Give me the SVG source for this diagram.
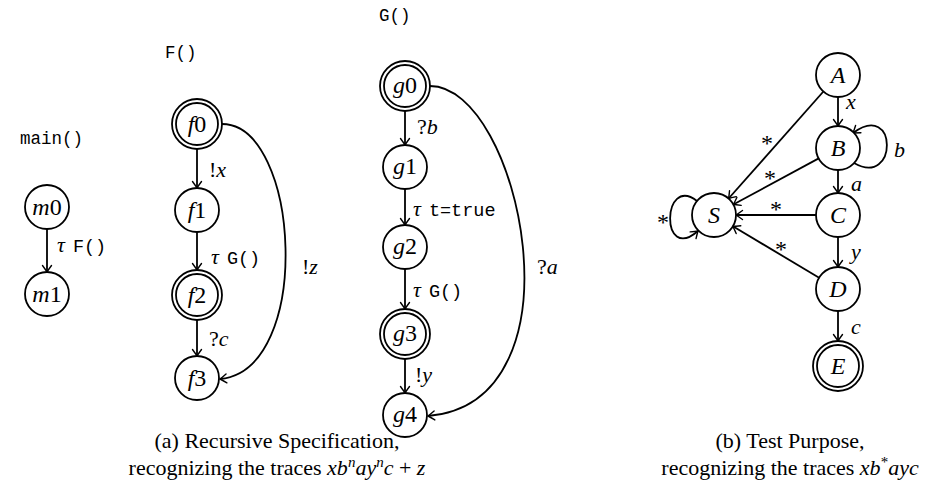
<svg xmlns="http://www.w3.org/2000/svg" width="951" height="502" viewBox="0 0 951 502">
<defs>
<marker id="arr" markerWidth="14" markerHeight="14" refX="0" refY="0" viewBox="-7 -7 14 14" orient="auto" markerUnits="userSpaceOnUse" overflow="visible">
<path d="M -6.5 -4.5 Q -2 -1.2 0 0 Q -2 1.2 -6.5 4.5" fill="none" stroke="#000" stroke-width="1.4" stroke-linecap="round"/>
</marker>
<style>
.n{fill:#fff;stroke:#000;stroke-width:1.8}
.e{fill:none;stroke:#000;stroke-width:1.8;marker-end:url(#arr)}
.lb{font-family:"Liberation Serif",serif;font-size:22px;fill:#000}
.nl{font-family:"Liberation Serif",serif;font-size:24px;fill:#000}
.it{font-style:italic}
.tt{font-family:"Liberation Mono",monospace;font-size:18.5px;fill:#000}
.hd{font-family:"Liberation Mono",monospace;font-size:17.5px;fill:#000}
.st{font-family:"Liberation Serif",serif;font-size:24px;fill:#000}
.cap{font-family:"Liberation Serif",serif;font-size:22px;fill:#000}
</style>
</defs>
<rect width="951" height="502" fill="#fff"/>

<g id="headers">
<text class="hd" x="20" y="144">main()</text>
<text class="hd" x="165" y="58">F()</text>
<text class="hd" x="379" y="21">G()</text>
</g>

<g id="connectors">
<line class="e" x1="47" y1="229" x2="47" y2="272"/>
<line class="e" x1="197" y1="149" x2="197" y2="188"/>
<line class="e" x1="197" y1="232" x2="197" y2="270"/>
<line class="e" x1="197" y1="320" x2="197" y2="356"/>
<path class="e" d="M 222 124 C 300 124 314 370 220 379"/>
<line class="e" x1="405" y1="111" x2="405" y2="145"/>
<line class="e" x1="405" y1="189" x2="405" y2="225"/>
<line class="e" x1="405" y1="269" x2="405" y2="309"/>
<line class="e" x1="405" y1="359" x2="405" y2="393"/>
<path class="e" d="M 430 86 C 520 86 588 403 428 416"/>
<line class="e" x1="838" y1="97" x2="838" y2="126"/>
<line class="e" x1="838" y1="170" x2="838" y2="193"/>
<line class="e" x1="838" y1="237" x2="838" y2="267"/>
<line class="e" x1="838" y1="311" x2="838" y2="341"/>
<path class="e" d="M 854 163 C 898 188 898 100 853 133"/>
<line class="e" x1="823.4" y1="91.5" x2="728.6" y2="198.5"/>
<line class="e" x1="818.7" y1="158.4" x2="733.3" y2="204.5"/>
<line class="e" x1="816" y1="215" x2="736" y2="215"/>
<line class="e" x1="819.1" y1="277.7" x2="732.9" y2="226.3"/>
<path class="e" d="M 697 201 C 662 174 660 264 698 231"/>
</g>

<g id="edge-labels">
<text class="lb" x="57" y="252"><tspan class="it">τ</tspan><tspan class="tt" dx="8">F()</tspan></text>
<text class="lb" x="209" y="177">!<tspan class="it">x</tspan></text>
<text class="lb" x="211" y="264"><tspan class="it">τ</tspan><tspan class="tt" dx="8">G()</tspan></text>
<text class="lb" x="209" y="346">?<tspan class="it">c</tspan></text>
<text class="lb" x="302" y="274">!<tspan class="it">z</tspan></text>
<text class="lb" x="417" y="134">?<tspan class="it">b</tspan></text>
<text class="lb" x="413" y="216"><tspan class="it">τ</tspan><tspan class="tt" dx="8">t=true</tspan></text>
<text class="lb" x="413" y="297"><tspan class="it">τ</tspan><tspan class="tt" dx="8">G()</tspan></text>
<text class="lb" x="415" y="382">!<tspan class="it">y</tspan></text>
<text class="lb" x="537" y="274">?<tspan class="it">a</tspan></text>
<text class="lb it" x="846" y="109">x</text>
<text class="lb it" x="894" y="157">b</text>
<text class="lb it" x="851" y="191">a</text>
<text class="lb it" x="851" y="259">y</text>
<text class="lb it" x="851" y="334">c</text>
<text class="st" x="761" y="151">*</text>
<text class="st" x="764" y="186">*</text>
<text class="st" x="770" y="217">*</text>
<text class="st" x="775" y="257">*</text>
<text class="st" x="657" y="230">*</text>
</g>

<g id="m0"><circle class="n" cx="47" cy="207" r="22"/><text class="nl" x="47" y="215" text-anchor="middle"><tspan class="it">m</tspan>0</text></g>
<g id="m1"><circle class="n" cx="47" cy="294" r="22"/><text class="nl" x="47" y="302" text-anchor="middle"><tspan class="it">m</tspan>1</text></g>

<g id="f0"><circle class="n" cx="197" cy="124" r="25"/><circle class="n" cx="197" cy="124" r="21"/><text class="nl" x="197" y="132" text-anchor="middle"><tspan class="it">f</tspan>0</text></g>
<g id="f1"><circle class="n" cx="197" cy="210" r="22"/><text class="nl" x="197" y="218" text-anchor="middle"><tspan class="it">f</tspan>1</text></g>
<g id="f2"><circle class="n" cx="197" cy="295" r="25"/><circle class="n" cx="197" cy="295" r="21"/><text class="nl" x="197" y="303" text-anchor="middle"><tspan class="it">f</tspan>2</text></g>
<g id="f3"><circle class="n" cx="197" cy="378" r="22"/><text class="nl" x="197" y="386" text-anchor="middle"><tspan class="it">f</tspan>3</text></g>

<g id="g0"><circle class="n" cx="405" cy="86" r="25"/><circle class="n" cx="405" cy="86" r="21"/><text class="nl" x="405" y="93" text-anchor="middle"><tspan class="it">g</tspan>0</text></g>
<g id="g1"><circle class="n" cx="405" cy="167" r="22"/><text class="nl" x="405" y="174" text-anchor="middle"><tspan class="it">g</tspan>1</text></g>
<g id="g2"><circle class="n" cx="405" cy="247" r="22"/><text class="nl" x="405" y="254" text-anchor="middle"><tspan class="it">g</tspan>2</text></g>
<g id="g3"><circle class="n" cx="405" cy="334" r="25"/><circle class="n" cx="405" cy="334" r="21"/><text class="nl" x="405" y="341" text-anchor="middle"><tspan class="it">g</tspan>3</text></g>
<g id="g4"><circle class="n" cx="405" cy="415" r="22"/><text class="nl" x="405" y="422" text-anchor="middle"><tspan class="it">g</tspan>4</text></g>

<g id="A"><circle class="n" cx="838" cy="75" r="22"/><text class="nl it" x="838" y="83" text-anchor="middle">A</text></g>
<g id="B"><circle class="n" cx="838" cy="148" r="22"/><text class="nl it" x="838" y="156" text-anchor="middle">B</text></g>
<g id="C"><circle class="n" cx="838" cy="215" r="22"/><text class="nl it" x="838" y="223" text-anchor="middle">C</text></g>
<g id="D"><circle class="n" cx="838" cy="289" r="22"/><text class="nl it" x="838" y="297" text-anchor="middle">D</text></g>
<g id="E"><circle class="n" cx="838" cy="366" r="25"/><circle class="n" cx="838" cy="366" r="21"/><text class="nl it" x="838" y="374" text-anchor="middle">E</text></g>
<g id="S"><circle class="n" cx="714" cy="215" r="22"/><text class="nl it" x="714" y="223" text-anchor="middle">S</text></g>

<g id="captions">
<text class="cap" x="277" y="448" text-anchor="middle">(a) Recursive Specification,</text>
<text class="cap" x="277" y="475" text-anchor="middle">recognizing the traces <tspan class="it">xb</tspan><tspan class="it" font-size="15" dy="-8">n</tspan><tspan class="it" dy="8">ay</tspan><tspan class="it" font-size="15" dy="-8">n</tspan><tspan class="it" dy="8">c</tspan> + <tspan class="it">z</tspan></text>
<text class="cap" x="790" y="448" text-anchor="middle">(b) Test Purpose,</text>
<text class="cap" x="790" y="475" text-anchor="middle">recognizing the traces <tspan class="it">xb</tspan><tspan font-size="15" dy="-8">*</tspan><tspan class="it" dy="8">ayc</tspan></text>
</g>
</svg>
